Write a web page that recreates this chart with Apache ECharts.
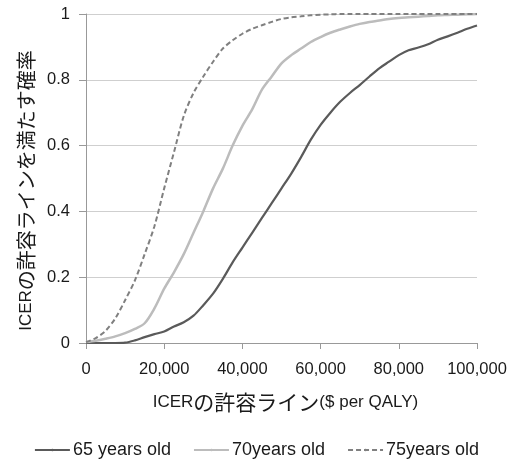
<!DOCTYPE html>
<html>
<head>
<meta charset="utf-8">
<script src="https://cdn.jsdelivr.net/npm/echarts@6/dist/echarts.min.js"></script>
<style>html,body{margin:0;padding:0;background:#fff;}#c{width:513px;height:460px;}</style>
</head>
<body>
<div id="c"></div>
<script>
var xValues = [0,2500,5000,7500,10000,12500,15000,17500,20000,22500,25000,27500,30000,32500,35000,37500,40000,42500,45000,47500,50000,52500,55000,57500,60000,62500,65000,67500,70000,72500,75000,77500,80000,82500,85000,87500,90000,92500,95000,97500,100000];
var age65 = [0,0,0,0,0.001,0.008,0.018,0.027,0.035,0.05,0.063,0.083,0.115,0.15,0.195,0.245,0.29,0.335,0.38,0.425,0.47,0.515,0.565,0.618,0.663,0.70,0.733,0.76,0.784,0.81,0.835,0.855,0.875,0.89,0.898,0.908,0.922,0.932,0.943,0.955,0.965];
var age70 = [0.003,0.007,0.013,0.02,0.03,0.043,0.06,0.105,0.165,0.215,0.27,0.335,0.40,0.47,0.53,0.60,0.66,0.71,0.77,0.81,0.85,0.875,0.895,0.915,0.93,0.943,0.953,0.962,0.97,0.976,0.98,0.985,0.988,0.99,0.992,0.994,0.996,0.997,0.998,0.999,1.0];
var age75 = [0.003,0.015,0.037,0.075,0.13,0.19,0.27,0.355,0.47,0.58,0.69,0.76,0.81,0.855,0.895,0.92,0.94,0.955,0.966,0.976,0.985,0.99,0.993,0.996,0.998,0.999,1,1,1,1,1,1,1,1,1,1,1,1,1,1,1];
var seriesNames = ['65 years old','70years old','75years old'];
var xTitle = 'ICERの許容ライン($ per QALY)';
var yTitle = 'ICERの許容ラインを満たす確率';

function pairs(vals){ return xValues.map(function(x,i){ return [x, vals[i]]; }); }
var latin = 'Liberation Sans, Arial, sans-serif';
var cjk = 'Noto Sans CJK JP';
function richName(s){
  var out = '', cur = '', curType = null;
  for (var i=0;i<s.length;i++){
    var ch = s[i];
    var t = ch.charCodeAt(0) > 0x2000 ? 'j' : 'a';
    if (t !== curType && cur){ out += '{'+curType+'|'+cur+'}'; cur=''; }
    curType = t; cur += ch;
  }
  if (cur) out += '{'+curType+'|'+cur+'}';
  return out;
}
var chart = echarts.init(document.getElementById('c'), null, {renderer:'canvas'});
var textColor = '#1a1a1a';
var richX = {a:{fontFamily:latin,fontSize:17,color:textColor},j:{fontFamily:cjk,fontSize:21,color:textColor}};
var richY = {a:{fontFamily:latin,fontSize:17,color:textColor},j:{fontFamily:cjk,fontSize:20,color:textColor}};
chart.setOption({
  animation:false,
  backgroundColor:'#fff',
  grid:{left:86,right:36,top:14,bottom:117,containLabel:false},
  legend:{
    top:436, left:'center',
    itemWidth:35, itemHeight:3, itemGap:22,
    textStyle:{fontFamily:latin,fontSize:18,color:textColor,padding:[0,0,0,-2]},
    data:seriesNames
  },
  xAxis:{
    type:'value', min:0, max:100000, interval:20000,
    name: richName(xTitle), nameLocation:'middle', nameGap:49,
    nameTextStyle:{rich:richX,padding:[0,0,0,8]},
    axisLine:{show:true,lineStyle:{color:'#999',width:1}},
    axisTick:{show:true,length:6,lineStyle:{color:'#999'}},
    axisLabel:{fontFamily:latin,fontSize:16.5,color:textColor,margin:18,
      formatter:function(v){ return v.toLocaleString('en-US'); }},
    splitLine:{show:false}
  },
  yAxis:{
    type:'value', min:0, max:1, interval:0.2,
    name: richName(yTitle), nameLocation:'middle', nameGap:49, nameRotate:90,
    nameTextStyle:{rich:richY,padding:[0,24,0,0]},
    axisLine:{show:true,lineStyle:{color:'#999',width:1}},
    axisTick:{show:true,length:7,lineStyle:{color:'#999'}},
    axisLabel:{fontFamily:latin,fontSize:16.5,color:textColor,margin:16,
      formatter:function(v){ return String(Math.round(v*10)/10); }},
    splitLine:{show:true,lineStyle:{color:'#cfcfcf',width:1}}
  },
  series:[
    {name:seriesNames[0],type:'line',data:pairs(age65),symbol:'none',smooth:0.3,
      lineStyle:{color:'#5a5a5a',width:2.2},itemStyle:{color:'#5a5a5a'}},
    {name:seriesNames[1],type:'line',data:pairs(age70),symbol:'none',smooth:0.3,
      lineStyle:{color:'#bcbcbc',width:2.5},itemStyle:{color:'#bcbcbc'}},
    {name:seriesNames[2],type:'line',data:pairs(age75),symbol:'none',smooth:0.3,
      lineStyle:{color:'#808080',width:2,type:[5,3]},itemStyle:{color:'#808080'}}
  ]
});
</script>
</body>
</html>
